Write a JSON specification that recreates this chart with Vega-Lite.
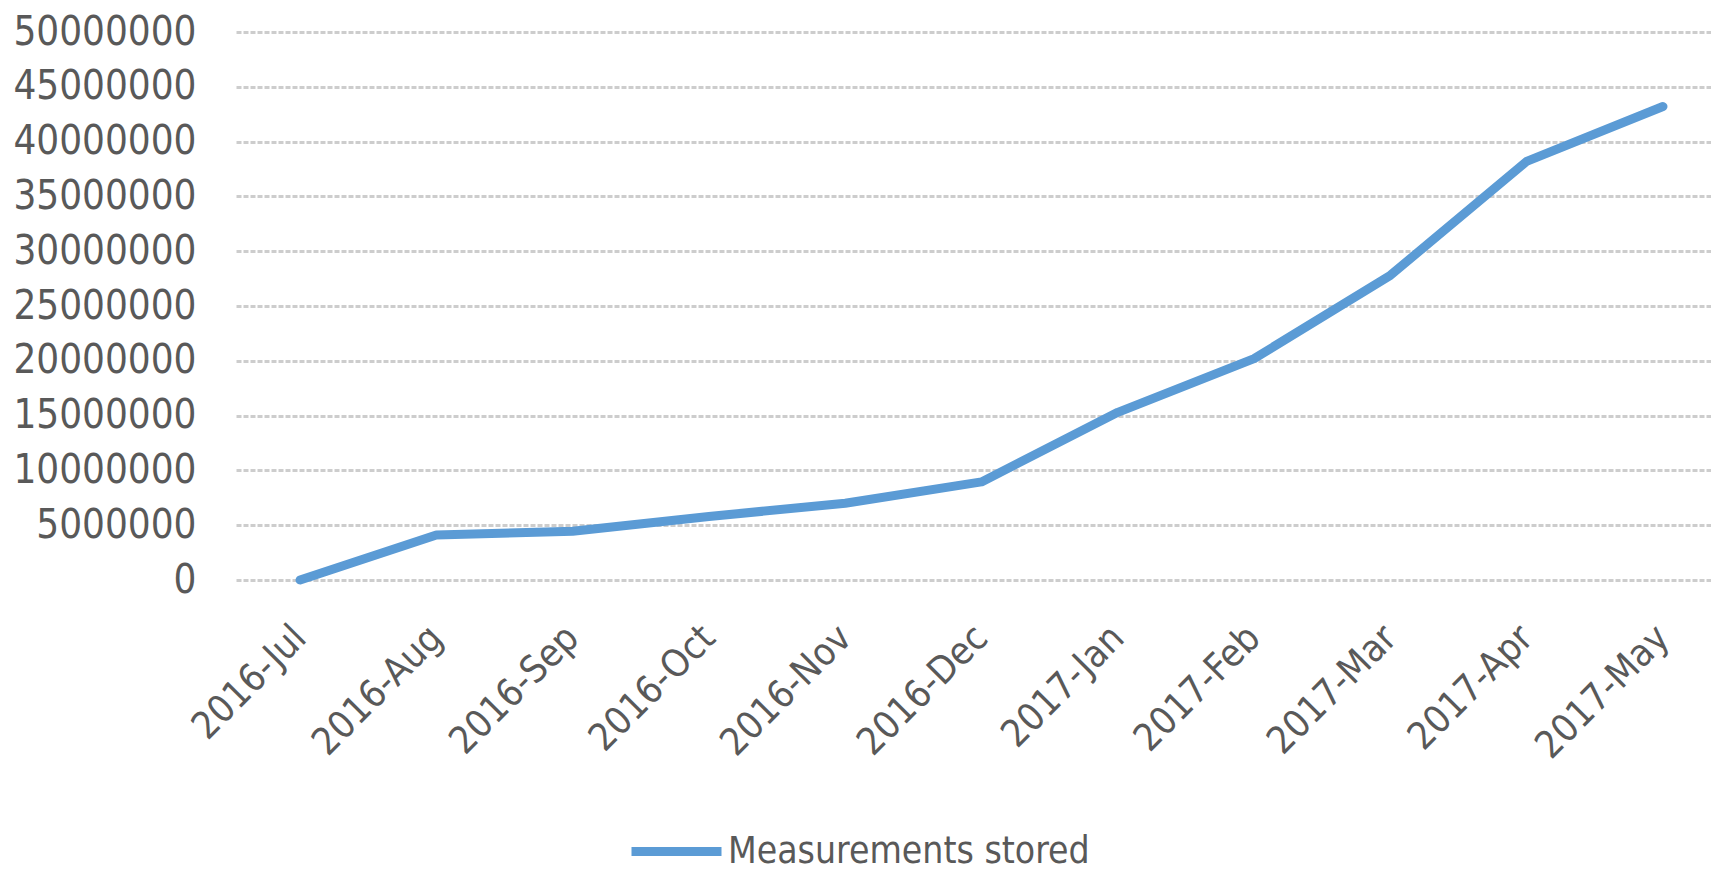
{
  "$schema": "https://vega.github.io/schema/vega-lite/v6.json",
  "autosize": {"type": "none"},
  "padding": {"left": 236, "top": 32, "right": -16, "bottom": 290},
  "width": 1491,
  "height": 548,
  "background": "white",
  "config": {
    "view": {"stroke": null},
    "font": "DejaVu Sans Condensed",
    "axis": {"labelFont": "DejaVu Sans Condensed", "labelColor": "#595959"}
  },
  "data": {
    "values": [
      {"month": "2016-Jul", "stored": 0},
      {"month": "2016-Aug", "stored": 4100000},
      {"month": "2016-Sep", "stored": 4450000},
      {"month": "2016-Oct", "stored": 5800000},
      {"month": "2016-Nov", "stored": 7000000},
      {"month": "2016-Dec", "stored": 8950000},
      {"month": "2017-Jan", "stored": 15300000},
      {"month": "2017-Feb", "stored": 20200000},
      {"month": "2017-Mar", "stored": 27800000},
      {"month": "2017-Apr", "stored": 38200000},
      {"month": "2017-May", "stored": 43200000}
    ]
  },
  "mark": {"type": "line", "strokeWidth": 9, "interpolate": "linear", "strokeCap": "round", "strokeJoin": "round"},
  "encoding": {
    "x": {
      "field": "month",
      "type": "ordinal",
      "sort": null,
      "scale": {"type": "point", "padding": 0.47},
      "axis": {
        "title": null,
        "domain": false,
        "ticks": false,
        "grid": false,
        "labelAngle": -45,
        "labelAlign": "right",
        "labelBaseline": "middle",
        "labelFontSize": 38,
        "labelPadding": 52
      }
    },
    "y": {
      "field": "stored",
      "type": "quantitative",
      "scale": {"domain": [0, 50000000], "nice": false},
      "axis": {
        "title": null,
        "domain": false,
        "ticks": false,
        "values": [0, 5000000, 10000000, 15000000, 20000000, 25000000, 30000000, 35000000, 40000000, 45000000, 50000000],
        "format": "d",
        "labelFontSize": 40,
        "labelPadding": 40,
        "labelLimit": 400,
        "gridColor": "#cdcdcd",
        "gridDash": [5, 2],
        "gridWidth": 3
      }
    },
    "color": {
      "datum": "Measurements stored",
      "scale": {"range": ["#5B9BD5"]},
      "legend": {
        "title": null,
        "orient": "none",
        "legendX": 391,
        "legendY": 770,
        "padding": 0,
        "symbolType": "stroke",
        "symbolSize": 8100,
        "symbolStrokeWidth": 9,
        "labelFont": "DejaVu Sans Condensed",
        "labelFontSize": 37,
        "labelColor": "#595959",
        "labelOffset": 2,
        "labelLimit": 600
      }
    }
  }
}
